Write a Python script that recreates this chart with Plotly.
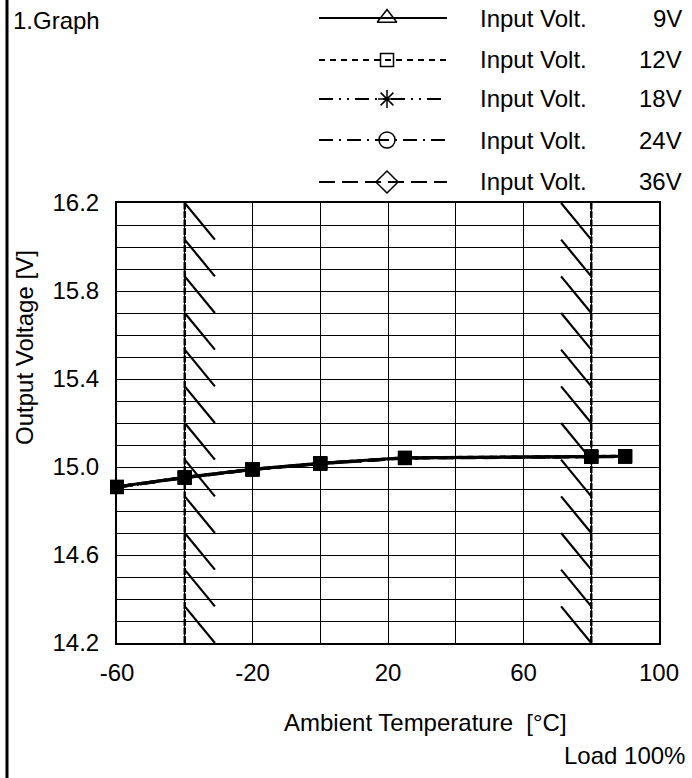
import plotly.graph_objects as go

# ---------------- data ----------------
temps = [-60, -40, -20, 0, 25, 80, 90]
v_9V = [14.910, 14.953, 14.990, 15.017, 15.042, 15.048, 15.049]
v_12V = [14.910, 14.953, 14.990, 15.017, 15.042, 15.048, 15.049]
v_18V = [14.909, 14.952, 14.989, 15.016, 15.041, 15.047, 15.048]
v_24V = [14.909, 14.952, 14.989, 15.016, 15.041, 15.047, 15.048]
v_36V = [14.908, 14.951, 14.988, 15.015, 15.040, 15.046, 15.047]

series_names = ["9V", "12V", "18V", "24V", "36V"]
series_values = [v_9V, v_12V, v_18V, v_24V, v_36V]

x_ticks = [-60, -20, 20, 60, 100]
y_ticks = [14.2, 14.6, 15.0, 15.4, 15.8, 16.2]
y_tick_text = ["14.2", "14.6", "15.0", "15.4", "15.8", "16.2"]

temp_low_limit = -40
temp_high_limit = 80

# ---------------- styles ----------------
W, H = 692, 778
FONT = "Liberation Sans, Arial, sans-serif"
FS = 24
dashes = ["solid", "6px,5px", "14px,6px,2px,6px,2px,6px", "14px,6px,2px,6px", "16px,7px"]
legend_symbols = ["triangle-up-open", "square-open", "asterisk-open", "circle-open", "diamond-open"]
legend_sizes = [17, 13, 15, 16, 17]

def px(x):
    return x / W

def py(y):
    return 1 - y / H

PL, PR, PT, PB = 117, 659, 203, 643

fig = go.Figure()

# data traces (draw solid last so it sits on top)
order = [4, 3, 2, 1, 0]
for i in order:
    fig.add_trace(go.Scatter(
        x=temps, y=series_values[i], mode="lines+markers",
        line=dict(color="black", width=3, dash=dashes[i]),
        marker=dict(symbol="square", size=14, color="black"),
        name="Input Volt. " + series_names[i], showlegend=False,
        cliponaxis=False, xaxis="x", yaxis="y",
    ))

# custom legend drawn on a pixel-unit overlay axis
leg_rows = [18, 60, 99, 140, 182]
leg_x0, leg_xm, leg_x1 = 319, 387, 447
for i in range(5):
    yy = leg_rows[i]
    fig.add_trace(go.Scatter(
        x=[leg_x0, leg_x1], y=[yy, yy], mode="lines",
        line=dict(color="black", width=2, dash=dashes[i]),
        showlegend=False, hoverinfo="skip", xaxis="x2", yaxis="y2",
    ))
    fig.add_trace(go.Scatter(
        x=[leg_xm], y=[yy], mode="markers",
        marker=dict(symbol=legend_symbols[i], size=legend_sizes[i], color="black",
                    line=dict(color="black", width=1.5)),
        showlegend=False, hoverinfo="skip", xaxis="x2", yaxis="y2",
    ))

annotations = []
for i in range(5):
    yy = leg_rows[i]
    annotations.append(dict(x=px(478), y=py(yy), xref="paper", yref="paper", text="Input Volt.",
                            showarrow=False, xanchor="left", yanchor="middle",
                            font=dict(family=FONT, size=FS, color="black")))
    annotations.append(dict(x=px(684), y=py(yy), xref="paper", yref="paper", text=series_names[i],
                            showarrow=False, xanchor="right", yanchor="middle",
                            font=dict(family=FONT, size=FS, color="black")))

annotations += [
    dict(x=px(11), y=py(20), xref="paper", yref="paper", text="1.Graph", showarrow=False,
         xanchor="left", yanchor="middle", font=dict(family=FONT, size=FS, color="black")),
    dict(x=px(24), y=py(348), xref="paper", yref="paper", text="Output Voltage [V]", showarrow=False,
         textangle=-90, xanchor="center", yanchor="middle", font=dict(family=FONT, size=FS, color="black")),
    dict(x=px(425), y=py(722), xref="paper", yref="paper", text="Ambient Temperature \u00a0[°C]",
         showarrow=False, xanchor="center", yanchor="middle", font=dict(family=FONT, size=FS, color="black")),
    dict(x=px(687), y=py(755), xref="paper", yref="paper", text="Load 100%", showarrow=False,
         xanchor="right", yanchor="middle", font=dict(family=FONT, size=FS, color="black")),
]

# shapes: limit lines and hatching
shapes = []
ymin, ymax = y_ticks[0], y_ticks[-1]
for xl in [temp_low_limit, temp_high_limit]:
    shapes.append(dict(type="line", xref="x", yref="y", x0=xl, x1=xl, y0=ymin, y1=ymax,
                       line=dict(color="black", width=2.5, dash="7px,1.5px"), layer="above"))
n_hatch = 12
p = (ymax - ymin) / n_hatch
hdx = 8.9
for k in range(n_hatch):
    y0 = ymax - k * p
    y1 = y0 - p
    shapes.append(dict(type="line", xref="x", yref="y", x0=temp_low_limit, x1=temp_low_limit + hdx,
                       y0=y0, y1=y1, line=dict(color="black", width=2.2), layer="above"))
    shapes.append(dict(type="line", xref="x", yref="y", x0=temp_high_limit - hdx, x1=temp_high_limit,
                       y0=y0, y1=y1, line=dict(color="black", width=2.2), layer="above"))
# page border on the left
shapes.append(dict(type="line", xref="paper", yref="paper", x0=px(7), x1=px(7), y0=0, y1=1,
                   line=dict(color="black", width=3)))

fig.update_layout(
    width=W, height=H,
    margin=dict(l=0, r=0, t=0, b=0, pad=0, autoexpand=False),
    paper_bgcolor="white", plot_bgcolor="rgba(0,0,0,0)",
    showlegend=False,
    font=dict(family=FONT, size=FS, color="black"),
    xaxis=dict(domain=[px(PL), px(PR)], range=[-60, 100], anchor="y", automargin=False,
               tickmode="array", tickvals=x_ticks, ticktext=[str(t) for t in x_ticks],
               showgrid=True, gridcolor="black", gridwidth=1,
               minor=dict(tickmode="linear", tick0=-60, dtick=20, showgrid=True, gridcolor="black", gridwidth=1),
               showline=True, linecolor="black", linewidth=2, mirror=True,
               zeroline=False, ticks="", ticklabelstandoff=7,
               tickfont=dict(family=FONT, size=FS, color="black")),
    yaxis=dict(domain=[py(PB), py(PT)], range=[ymin, ymax], anchor="x", automargin=False,
               tickmode="array", tickvals=y_ticks, ticktext=y_tick_text,
               showgrid=True, gridcolor="black", gridwidth=1,
               minor=dict(tickmode="linear", tick0=14.2, dtick=0.1, showgrid=True, gridcolor="black", gridwidth=1),
               showline=True, linecolor="black", linewidth=2, mirror=True,
               zeroline=False, ticks="", ticklabelstandoff=11,
               tickfont=dict(family=FONT, size=FS, color="black")),
    xaxis2=dict(domain=[0, 1], range=[0, W], anchor="y2", visible=False, fixedrange=True, automargin=False),
    yaxis2=dict(domain=[0, 1], range=[H, 0], anchor="x2", visible=False, fixedrange=True, automargin=False),
    annotations=annotations,
    shapes=shapes,
)

fig.write_html(
    "out.html",
    config={"displayModeBar": False},
    post_script="document.body.style.margin='0';document.body.style.padding='0';"
                "document.body.style.overflow='hidden';",
)
